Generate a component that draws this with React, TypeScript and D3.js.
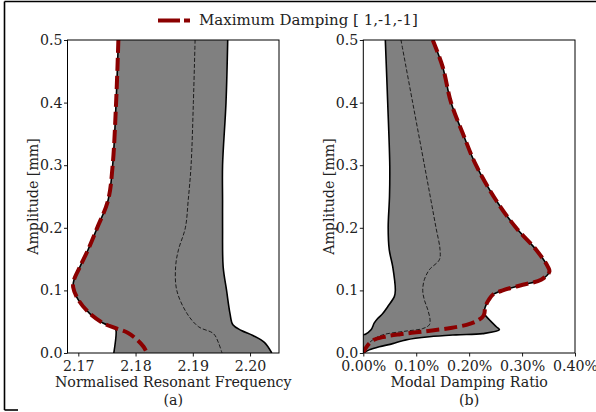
import React, { useEffect, useRef } from "react";
import * as d3 from "d3";

// ---------- data (amplitude [mm], value) ----------
const aLower: [number, number][] = [
  [0.5, 2.177], [0.4, 2.1766], [0.3, 2.176], [0.244, 2.1752], [0.2, 2.1733],
  [0.165, 2.1717], [0.138, 2.1703], [0.117, 2.16925], [0.105, 2.1691],
  [0.085, 2.17], [0.063, 2.172], [0.048, 2.1743], [0.04, 2.1764],
  [0.035, 2.1766], [0.0, 2.1762],
];
const aUpper: [number, number][] = [
  [0.5, 2.1961], [0.4, 2.1958], [0.3, 2.1952], [0.244, 2.1952], [0.2, 2.1952],
  [0.138, 2.1953], [0.1, 2.1959], [0.063, 2.1965], [0.045, 2.197],
  [0.036, 2.1985], [0.028, 2.2005], [0.017, 2.2025], [0.0, 2.2038],
];
const aMean: [number, number][] = [
  [0.5, 2.1904], [0.4, 2.1901], [0.3, 2.1897], [0.244, 2.1892], [0.2, 2.1887],
  [0.165, 2.1875], [0.138, 2.187], [0.1, 2.1872], [0.063, 2.189],
  [0.042, 2.191], [0.031, 2.1936], [0.016, 2.1945], [0.0, 2.1951],
];
const aMaxDamp: [number, number][] = [
  [0.5, 2.177], [0.4, 2.1766], [0.3, 2.176], [0.244, 2.1752], [0.2, 2.1733],
  [0.165, 2.1717], [0.138, 2.1703], [0.117, 2.16925], [0.105, 2.1691],
  [0.085, 2.17], [0.063, 2.172], [0.048, 2.1743], [0.04, 2.1764],
  [0.032, 2.1787], [0.021, 2.1803], [0.01, 2.1814], [0.0, 2.182],
];

const bLower: [number, number][] = [
  [0.5, 0.0416], [0.4, 0.0461], [0.3, 0.05], [0.25, 0.0495], [0.2, 0.047],
  [0.165, 0.049], [0.138, 0.0556], [0.1, 0.0605],
  [0.09, 0.0586], [0.074, 0.0461], [0.063, 0.0367], [0.055, 0.0272],
  [0.048, 0.0208], [0.037, 0.0146], [0.03, 0.004], [0.029, 0], [0.0, 0],
];
const bUpper: [number, number][] = [
  [0.5, 0.1312], [0.457, 0.15], [0.4, 0.1658], [0.351, 0.1879], [0.3, 0.213],
  [0.244, 0.2509], [0.2, 0.2887], [0.165, 0.3265], [0.138, 0.3486],
  [0.13, 0.3516], [0.117, 0.3359], [0.109, 0.3013], [0.1, 0.2635],
  [0.093, 0.2446], [0.085, 0.2371], [0.074, 0.2306], [0.063, 0.2287],
  [0.053, 0.2382], [0.042, 0.2514], [0.037, 0.2571], [0.031, 0.2257],
  [0.029, 0.1752], [0.026, 0.1248], [0.021, 0.0807], [0.015, 0.0556],
  [0.01, 0.0302], [0.005, 0.0113], [0.0, 0],
];
const bMean: [number, number][] = [
  [0.5, 0.0712], [0.4, 0.0933], [0.3, 0.1155], [0.244, 0.1278], [0.2, 0.1374],
  [0.165, 0.145], [0.149, 0.1437], [0.133, 0.1248], [0.117, 0.1153],
  [0.1, 0.1123], [0.085, 0.1153], [0.069, 0.1219], [0.053, 0.1261],
  [0.045, 0.1248], [0.039, 0.1123], [0.035, 0.0807], [0.029, 0.0367],
  [0.021, 0.0178], [0.01, 0.0051], [0.0, 0],
];
const bMaxDamp: [number, number][] = [
  [0.5, 0.1312], [0.457, 0.15], [0.4, 0.1658], [0.351, 0.1879], [0.3, 0.213],
  [0.244, 0.2509], [0.2, 0.2887], [0.165, 0.3265], [0.138, 0.3486],
  [0.13, 0.3516], [0.117, 0.3359], [0.109, 0.3013], [0.1, 0.2635],
  [0.093, 0.2446], [0.085, 0.2371], [0.074, 0.2306], [0.063, 0.2287],
  [0.058, 0.2257], [0.05, 0.212], [0.045, 0.195], [0.04, 0.165],
  [0.036, 0.13], [0.033, 0.1], [0.03, 0.07], [0.026, 0.04], [0.021, 0.02],
  [0.012, 0.008], [0.004, 0.002], [0.0, 0],
];

const aTicks = [2.17, 2.18, 2.19, 2.2];
const bTicks = [0, 0.1, 0.2, 0.3, 0.4];
const yTicks = [0, 0.1, 0.2, 0.3, 0.4, 0.5];
const legendLabel = "Maximum Damping [ 1,-1,-1]";
const yLabel = "Amplitude [mm]";
const aXLabel = "Normalised Resonant Frequency";
const bXLabel = "Modal Damping Ratio";

const FONT = "DejaVu Serif";
const FS = 14.2;
const W = 596;
const H = 412;
const TOP = 40;
const BOTTOM = 353;

type Panel = {
  id: string;
  left: number;
  right: number;
  domain: [number, number];
  ticks: number[];
  fmt: (d: number) => string;
  lower: [number, number][];
  upper: [number, number][];
  mean: [number, number][];
  maxd: [number, number][];
  xlabel: string;
  sub: string;
};

const panels: Panel[] = [
  {
    id: "a", left: 67.5, right: 279, domain: [2.16811, 2.20506], ticks: aTicks,
    fmt: (d) => d.toFixed(2), lower: aLower, upper: aUpper, mean: aMean,
    maxd: aMaxDamp, xlabel: aXLabel, sub: "(a)",
  },
  {
    id: "b", left: 363.3, right: 575, domain: [0, 0.4], ticks: bTicks,
    fmt: (d) => d.toFixed(2) + "%", lower: bLower, upper: bUpper, mean: bMean,
    maxd: bMaxDamp, xlabel: bXLabel, sub: "(b)",
  },
];

function PanelView({ p }: { p: Panel }) {
  const xRef = useRef<SVGGElement>(null);
  const yRef = useRef<SVGGElement>(null);
  const x = d3.scaleLinear().domain(p.domain).range([p.left, p.right]);
  const y = d3.scaleLinear().domain([0, 0.5]).range([BOTTOM, TOP]);

  useEffect(() => {
    const gx = d3.select(xRef.current!);
    gx.call(
      d3.axisBottom(x).tickValues(p.ticks).tickFormat((d) => p.fmt(+d)).tickSize(3.5).tickPadding(4.5)
    );
    const gy = d3.select(yRef.current!);
    gy.call(
      d3.axisLeft(y).tickValues(yTicks).tickFormat((d) => (+d).toFixed(1)).tickSize(3.5).tickPadding(1.5)
    );
    [gx, gy].forEach((g) => {
      g.select(".domain").remove();
      g.selectAll("text").attr("font-family", FONT).attr("font-size", FS).attr("fill", "#222");
      g.selectAll("line").attr("stroke", "#000").attr("stroke-width", 0.9);
    });
  });

  const line = d3
    .line<[number, number]>()
    .x((d) => x(d[1]))
    .y((d) => y(d[0]))
    .curve(d3.curveCatmullRom.alpha(0.5));
  const lowerPath = line(p.lower) || "";
  const upperRev = line([...p.upper].reverse()) || "";
  const fillPath = lowerPath + "L" + upperRev.slice(1) + "Z";
  const clipId = "clip-" + p.id;
  const cx = (p.left + p.right) / 2;

  return (
    <g>
      <defs>
        <clipPath id={clipId}>
          <rect x={p.left} y={TOP} width={p.right - p.left} height={BOTTOM - TOP} />
        </clipPath>
      </defs>
      <g clipPath={`url(#${clipId})`}>
        <path d={fillPath} fill="#808080" stroke="none" />
        <path d={lowerPath} fill="none" stroke="#000" strokeWidth={1.6} />
        <path d={line(p.upper) || ""} fill="none" stroke="#000" strokeWidth={1.6} />
        <path d={line(p.mean) || ""} fill="none" stroke="#111" strokeWidth={0.9} strokeDasharray="4,2" />
        <path d={line(p.maxd) || ""} fill="none" stroke="#8b0000" strokeWidth={4} strokeDasharray="13,5" />
      </g>
      <rect x={p.left} y={TOP} width={p.right - p.left} height={BOTTOM - TOP} fill="none" stroke="#000" strokeWidth={1} />
      <g ref={xRef} transform={`translate(0,${BOTTOM})`} />
      <g ref={yRef} transform={`translate(${p.left},0)`} />
      <text x={cx} y={386.5} textAnchor="middle" fontFamily={FONT} fontSize={FS} fill="#222">{p.xlabel}</text>
      <text x={cx} y={405} textAnchor="middle" fontFamily={FONT} fontSize={FS} fill="#222">{p.sub}</text>
      <text
        transform={`translate(${p.left - 29.5},${(TOP + BOTTOM) / 2}) rotate(-90)`}
        textAnchor="middle" fontFamily={FONT} fontSize={FS} fill="#222"
      >{yLabel}</text>
    </g>
  );
}

export default function App() {
  return (
    <svg width={W} height={H} style={{ position: "absolute", left: 0, top: 0, background: "#fff" }}>
      <rect x={0} y={0} width={W} height={H} fill="#fff" />
      {/* outer frame fragments */}
      <line x1={4.5} y1={1.5} x2={W} y2={1.5} stroke="#000" strokeWidth={1.6} />
      <line x1={4.5} y1={1.5} x2={4.5} y2={410} stroke="#000" strokeWidth={1.6} />
      <line x1={4.5} y1={410} x2={18} y2={410} stroke="#000" strokeWidth={1.6} />
      {panels.map((p) => <PanelView key={p.id} p={p} />)}
      {/* legend */}
      <line x1={158} y1={20.5} x2={190} y2={20.5} stroke="#8b0000" strokeWidth={4} strokeDasharray="22,4" />
      <text x={199} y={25} fontFamily={FONT} fontSize={15} fill="#222">{legendLabel}</text>
    </svg>
  );
}
